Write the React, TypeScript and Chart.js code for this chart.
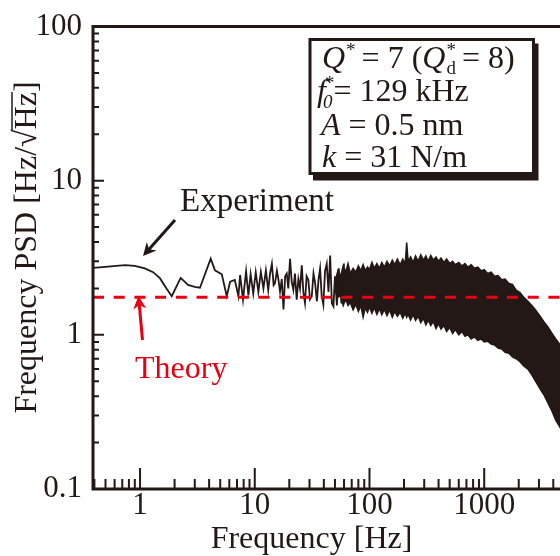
import React, { useEffect, useRef } from "react";
import { Chart, registerables } from "chart.js";

Chart.register(...registerables);

const INK = "#231815";
const RED = "#e60012";
const SERIF = '"Liberation Serif", "Times New Roman", Times, serif';
const CANVAS_W = 640;
const CANVAS_H = 556;

// axis ranges
const xMin = 0.389;
const xMax = 6310;
const yMin = 0.1;
const yMax = 100;
const xTickValues = [1, 10, 100, 1000];
const yTickValues = [0.1, 1, 10, 100];

// Experiment: low-frequency part (individual points)
const lowFreq = [0.389, 0.5, 0.62, 0.74, 0.9, 1.1, 1.3, 1.49, 1.7, 1.89, 2.26, 2.62, 3.0, 3.33, 4.13, 4.5, 5.16, 5.7, 6.1, 6.7, 7.2, 7.45, 7.9, 8.4, 8.8, 9.2, 9.7, 10.2, 10.75, 11.3, 11.9, 12.5, 13.1, 13.6, 14.1, 14.6, 15.0, 15.6, 16.1, 16.6, 17.2, 17.8, 18.4, 19.0, 19.6, 20.3, 21.0, 21.7, 22.4, 23.2, 24.0, 24.8, 25.7, 26.5, 27.4, 28.3, 29.3, 30.3, 31.4, 32.5, 33.6, 34.8, 36.0, 37.1, 38.3, 39.6, 41.0, 42.4, 43.9, 45.4, 47.0, 48.5, 50.0, 52.0, 54.0, 57.0, 60.0];
const lowPsd = [2.72, 2.76, 2.8, 2.83, 2.8, 2.7, 2.55, 2.33, 2.0, 1.78, 2.34, 2.11, 2.05, 2.02, 3.12, 2.62, 2.47, 1.78, 2.21, 2.27, 1.78, 2.44, 1.69, 2.58, 1.8, 2.48, 1.85, 2.55, 1.9, 2.56, 2.0, 2.62, 1.95, 2.5, 2.89, 2.1, 2.16, 2.6, 2.27, 1.91, 2.3, 1.46, 2.4, 2.5, 2.0, 3.11, 2.2, 1.96, 2.5, 1.69, 2.3, 2.0, 2.82, 1.9, 1.61, 2.4, 2.27, 1.7, 1.78, 2.5, 2.16, 1.65, 2.3, 2.69, 1.8, 1.57, 2.6, 2.89, 1.9, 3.27, 1.6, 1.53, 2.4, 1.55, 2.7, 1.6, 2.9];

// Experiment: dense noisy band (upper / lower envelope)
const bandFreq = [50, 53, 56, 59, 62, 65, 68, 72, 76, 80, 84, 88, 92, 96, 100, 105, 110, 116, 122, 128, 135, 142, 150, 158, 166, 175, 185, 195, 205, 211, 217, 228, 240, 252, 265, 280, 295, 310, 325, 342, 360, 380, 400, 420, 445, 470, 500, 530, 560, 600, 640, 680, 720, 770, 820, 880, 940, 1000, 1070, 1150, 1230, 1320, 1420, 1520, 1640, 1760, 1900, 2050, 2200, 2400, 2600, 2800, 3050, 3300, 3600, 3900, 4200, 4600, 5000];
const bandUpper = [2.2, 2.6, 2.4, 2.8, 2.55, 2.9, 2.5, 2.7, 2.55, 2.8, 2.6, 2.85, 2.6, 2.75, 2.65, 2.95, 2.7, 2.9, 2.7, 2.95, 2.75, 3.0, 2.8, 3.05, 2.85, 3.1, 2.85, 3.1, 2.9, 3.97, 3.0, 3.2, 2.95, 3.25, 3.0, 3.3, 3.05, 3.25, 3.0, 3.27, 3.05, 3.2, 3.0, 3.15, 2.95, 3.1, 2.9, 3.0, 2.85, 2.95, 2.8, 2.9, 2.75, 2.85, 2.7, 2.75, 2.6, 2.65, 2.5, 2.55, 2.4, 2.42, 2.28, 2.3, 2.15, 2.12, 1.95, 1.88, 1.76, 1.65, 1.55, 1.45, 1.33, 1.22, 1.12, 1.02, 0.94, 0.86, 0.8];
const bandLower = [2.0, 1.75, 1.8, 1.55, 1.7, 1.55, 1.62, 1.45, 1.58, 1.42, 1.55, 1.3, 1.5, 1.4, 1.52, 1.38, 1.5, 1.36, 1.48, 1.35, 1.46, 1.33, 1.45, 1.3, 1.42, 1.32, 1.4, 1.28, 1.38, 1.3, 1.36, 1.25, 1.35, 1.24, 1.32, 1.2, 1.28, 1.16, 1.25, 1.15, 1.22, 1.1, 1.18, 1.09, 1.15, 1.05, 1.12, 1.02, 1.08, 1.0, 1.05, 0.98, 1.0, 0.94, 0.97, 0.92, 0.94, 0.9, 0.91, 0.87, 0.86, 0.82, 0.81, 0.77, 0.76, 0.72, 0.7, 0.67, 0.63, 0.6, 0.55, 0.5, 0.45, 0.41, 0.36, 0.32, 0.28, 0.25, 0.22];

// Theory level
const theoryPsd = 1.75;

const xTitle = "Frequency [Hz]";
const yTitle = "Frequency PSD [Hz/√Hz]";

const pts = (xs: number[], ys: number[]) => xs.map((x, i) => ({ x, y: ys[i] }));

function arrow(ctx: CanvasRenderingContext2D, x1: number, y1: number, x2: number, y2: number, color: string) {
  const ang = Math.atan2(y2 - y1, x2 - x1);
  const head = 13;
  const hw = 6.5;
  ctx.strokeStyle = color;
  ctx.fillStyle = color;
  ctx.lineWidth = 3;
  ctx.beginPath();
  ctx.moveTo(x1, y1);
  ctx.lineTo(x2 - Math.cos(ang) * head * 0.6, y2 - Math.sin(ang) * head * 0.6);
  ctx.stroke();
  ctx.beginPath();
  ctx.moveTo(x2, y2);
  ctx.lineTo(x2 - Math.cos(ang) * head + Math.sin(ang) * hw, y2 - Math.sin(ang) * head - Math.cos(ang) * hw);
  ctx.lineTo(x2 - Math.cos(ang) * head * 0.7, y2 - Math.sin(ang) * head * 0.7);
  ctx.lineTo(x2 - Math.cos(ang) * head - Math.sin(ang) * hw, y2 - Math.sin(ang) * head + Math.cos(ang) * hw);
  ctx.closePath();
  ctx.fill();
}

const framePlugin = {
  id: "frame",
  afterDraw(chart: any) {
    const { ctx, chartArea: a, scales } = chart;
    const xs = scales.x;
    const ys = scales.y;
    ctx.save();
    ctx.strokeStyle = INK;
    ctx.fillStyle = INK;
    ctx.lineCap = "butt";
    // frame
    ctx.lineWidth = 3;
    ctx.beginPath();
    ctx.moveTo(a.left - 1.5, a.top);
    ctx.lineTo(chart.width, a.top);
    ctx.moveTo(a.left, a.top - 1.5);
    ctx.lineTo(a.left, a.bottom + 1.5);
    ctx.moveTo(a.left - 1.5, a.bottom);
    ctx.lineTo(chart.width, a.bottom);
    ctx.stroke();
    // inward ticks
    ctx.lineWidth = 2;
    ctx.beginPath();
    for (let e = -1; e <= 4; e++) {
      for (let k = 1; k <= 9; k++) {
        const v = k * Math.pow(10, e);
        if (v < xMin || v > xMax) continue;
        const px = xs.getPixelForValue(v);
        const len = k === 1 ? 21 : 10;
        ctx.moveTo(px, a.bottom);
        ctx.lineTo(px, a.bottom - len);
      }
    }
    for (let e = -1; e <= 2; e++) {
      for (let k = 1; k <= 9; k++) {
        const v = k * Math.pow(10, e);
        if (v <= yMin * 1.0001 || v > yMax * 1.0001) continue;
        const py = ys.getPixelForValue(v);
        const len = k === 1 ? 11 : 6;
        ctx.moveTo(a.left, py);
        ctx.lineTo(a.left + len, py);
      }
    }
    ctx.stroke();

    // axis titles
    ctx.font = `32px ${SERIF}`;
    ctx.textAlign = "center";
    ctx.textBaseline = "alphabetic";
    ctx.fillText(xTitle, 311.5, 548);
    ctx.save();
    ctx.translate(36, 247.5);
    ctx.rotate(-Math.PI / 2);
    ctx.fillText(yTitle, 0, 0);
    const W = ctx.measureText(yTitle).width;
    const pre = ctx.measureText("Frequency PSD [Hz/√").width;
    const hz = ctx.measureText("Hz").width;
    ctx.lineWidth = 1.5;
    ctx.beginPath();
    ctx.moveTo(-W / 2 + pre - 1, -24);
    ctx.lineTo(-W / 2 + pre + hz, -24);
    ctx.stroke();
    ctx.restore();

    // annotations
    ctx.textAlign = "left";
    ctx.font = `33px ${SERIF}`;
    ctx.fillStyle = INK;
    ctx.fillText("Experiment", 180, 211);
    arrow(ctx, 175, 220, 143, 256, INK);
    ctx.font = `32px ${SERIF}`;
    ctx.fillStyle = RED;
    ctx.fillText("Theory", 135, 378);
    arrow(ctx, 142.5, 340, 138.5, 296, RED);

    // parameter box
    const bx = 310, by = 39.5, bw = 223.5, bh = 134;
    ctx.fillStyle = INK;
    ctx.fillRect(bx + 3, by + 4, bw + 2, bh + 3);
    ctx.fillStyle = "#ffffff";
    ctx.fillRect(bx, by, bw, bh);
    ctx.strokeStyle = INK;
    ctx.lineWidth = 3;
    ctx.strokeRect(bx, by, bw, bh);

    const F = 32;
    const reg = `${F}px "Liberation Serif"`;
    const ita = `italic ${F}px "Liberation Serif"`;
    const small = `${Math.round(F * 0.6)}px "Liberation Serif"`;
    const smallIt = `italic ${Math.round(F * 0.6)}px "Liberation Serif"`;
    ctx.fillStyle = INK;
    const put = (t: string, font: string, x: number, y: number) => {
      ctx.font = font;
      ctx.fillText(t, x, y);
      return x + ctx.measureText(t).width;
    };
    // line 1
    let x = 322;
    let y = 68;
    x = put("Q", ita, x, y);
    x = put("*", small, x + 1, y - 12);
    x = put(" = 7 (", reg, x - 2, y);
    x = put("Q", ita, x, y);
    const xs2 = x + 1;
    put("*", small, xs2, y - 12);
    x = put("d", small, xs2, y + 6);
    x = put(" = 8)", reg, x - 2, y);
    // line 2
    x = 317;
    y = 101;
    x = put("f", ita, x, y);
    const x0 = x - 3;
    put("*", small, x0 + 2, y - 12);
    x = put("0", smallIt, x0, y + 7);
    x = put("= 129 kHz", reg, x + 1, y);
    // line 3
    x = 321;
    y = 135;
    x = put("A", ita, x, y);
    put(" = 0.5 nm", reg, x, y);
    // line 4
    x = 322;
    y = 167;
    x = put("k", ita, x, y);
    put(" = 31 N/m", reg, x, y);

    ctx.restore();
  },
};

export default function App() {
  const ref = useRef<HTMLCanvasElement>(null);
  useEffect(() => {
    const canvas = ref.current;
    if (!canvas) return;
    const chart = new Chart(canvas, {
      type: "line",
      data: {
        datasets: [
          {
            label: "Theory",
            data: [
              { x: xMin, y: theoryPsd },
              { x: xMax, y: theoryPsd },
            ],
            borderColor: RED,
            borderWidth: 3,
            borderDash: [11, 9.7],
            pointRadius: 0,
            fill: false,
          },
          {
            label: "Experiment",
            data: pts(lowFreq, lowPsd),
            borderColor: INK,
            borderWidth: 1.8,
            pointRadius: 0,
            fill: false,
            tension: 0,
          },
          {
            label: "Experiment upper",
            data: pts(bandFreq, bandUpper),
            borderColor: INK,
            borderWidth: 1.5,
            pointRadius: 0,
            fill: false,
          },
          {
            label: "Experiment lower",
            data: pts(bandFreq, bandLower),
            borderColor: INK,
            borderWidth: 1.5,
            backgroundColor: INK,
            pointRadius: 0,
            fill: "-1",
          },
        ],
      },
      options: {
        responsive: false,
        animation: false,
        devicePixelRatio: 1,
        layout: { padding: { top: 16, right: 64, bottom: 0, left: 0 } },
        plugins: {
          legend: { display: false },
          tooltip: { enabled: false },
        },
        scales: {
          x: {
            type: "logarithmic",
            min: xMin,
            max: xMax,
            grid: { display: false, drawTicks: false },
            border: { display: false },
            afterBuildTicks: (s: any) => {
              s.ticks = xTickValues.map((v) => ({ value: v }));
            },
            afterFit: (s: any) => {
              s.height = 67;
            },
            ticks: {
              color: INK,
              padding: 1,
              maxRotation: 0,
              autoSkip: false,
              font: { family: SERIF, size: 31, lineHeight: 1 },
              callback: (v: any) => String(v),
            },
          },
          y: {
            type: "logarithmic",
            min: yMin,
            max: yMax,
            grid: { display: false, drawTicks: false },
            border: { display: false },
            afterBuildTicks: (s: any) => {
              s.ticks = yTickValues.map((v) => ({ value: v }));
            },
            afterFit: (s: any) => {
              s.width = 93;
            },
            ticks: {
              color: INK,
              padding: 11,
              autoSkip: false,
              font: { family: SERIF, size: 31, lineHeight: 1 },
              callback: (v: any) => String(v),
            },
          },
        },
      },
      plugins: [framePlugin],
    } as any);
    return () => chart.destroy();
  }, []);
  return (
    <div
      style={{
        position: "fixed",
        left: 0,
        top: 0,
        width: 560,
        height: 556,
        overflow: "hidden",
        background: "#ffffff",
      }}
    >
      <canvas
        ref={ref}
        width={CANVAS_W}
        height={CANVAS_H}
        style={{ display: "block", width: CANVAS_W, height: CANVAS_H }}
      />
    </div>
  );
}
